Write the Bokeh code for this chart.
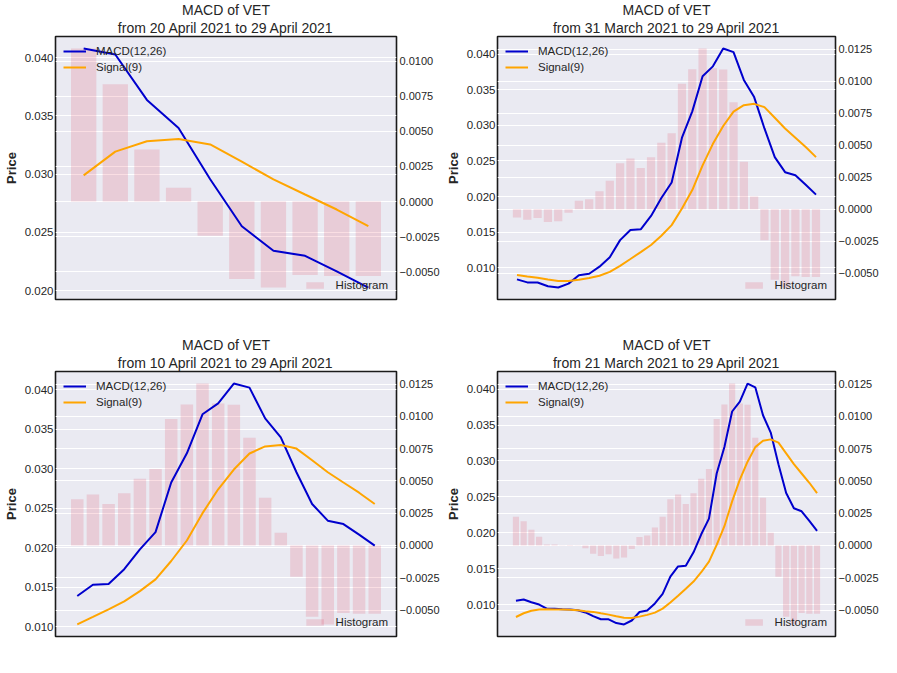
import pandas as pd
from bokeh.plotting import figure
from bokeh.models import (Range1d, LinearAxis, SingleIntervalTicker, Grid, Legend,
                          LegendItem, Title, CustomJSTickFormatter)
from bokeh.layouts import column, row
from bokeh.embed import file_html
from bokeh.resources import INLINE

# ---- data (VET, 21 March 2021 .. 29 April 2021) ----
dates = pd.date_range("2021-03-21", "2021-04-29", freq="D")

macd = [0.01055, 0.01072, 0.01035, 0.01002, 0.00945, 0.00944, 0.00936, 0.00933, 0.00922, 0.00892,
        0.00840, 0.00797, 0.00796, 0.00744, 0.00725, 0.00780, 0.00898, 0.00918, 0.01018, 0.01150,
        0.01390, 0.01533, 0.01542, 0.01729, 0.01980, 0.02198, 0.02826, 0.03196, 0.03689, 0.03827,
        0.04078, 0.04026, 0.03637, 0.03396, 0.02956, 0.02554, 0.02343, 0.02300, 0.02166, 0.02028]

signal = [0.00829, 0.00881, 0.00915, 0.00934, 0.00938, 0.00934, 0.00934, 0.00929, 0.00924, 0.00910,
          0.00900, 0.00880, 0.00862, 0.00838, 0.00818, 0.00816, 0.00834, 0.00858, 0.00890, 0.00945,
          0.01030, 0.01125, 0.01222, 0.01322, 0.01452, 0.01600, 0.01833, 0.02092, 0.02438, 0.02740,
          0.02990, 0.03193, 0.03282, 0.03301, 0.03255, 0.03107, 0.02956, 0.02826, 0.02697, 0.02554]

hist = [0.00223, 0.00188, 0.00122, 0.00068, 0.00008, 0.00008, 0.00002, 0.00004, -0.00002, -0.00022,
        -0.00065, -0.00082, -0.00068, -0.00100, -0.00094, -0.00028, 0.00066, 0.00078, 0.00140, 0.00222,
        0.00358, 0.00395, 0.00322, 0.00405, 0.00518, 0.00592, 0.00980, 0.01092, 0.01255, 0.01100,
        0.01090, 0.00835, 0.00370, 0.00098, -0.00243, -0.00552, -0.00612, -0.00523, -0.00530, -0.00530]

# window start index for each panel (top-left, top-right, bottom-left, bottom-right)
starts = [30, 10, 20, 0]

main_title = "MACD of VET"
line_labels = ["MACD(12,26)", "Signal(9)"]
bar_label = "Histogram"

FONT = "Liberation Sans"
TXT = "#262626"
BG = "#EAEAF2"


def fmt_date(d):
    return f"{d.day} {d.strftime('%B %Y')}"


def make_panel(start, top_row, left_col):
    n = len(macd) - start
    xs = list(range(n))
    m = macd[start:]
    s = signal[start:]
    h = hist[start:]

    lo, hi = min(m + s), max(m + s)
    pad = 0.05 * (hi - lo)
    hlo, hhi = min(min(h), 0.0), max(max(h), 0.0)
    hpad = 0.05 * (hhi - hlo)
    xpad = 0.05 * (n - 1 + 0.8)

    if left_col:
        width, bl, br = 442, 47, 40
    else:
        width, bl, br = 439, 52, 40
    if top_row:
        height, bt, bb = 335, 33, 36
    else:
        height, bt, bb = 322, 34, 21

    p = figure(width=width, height=height, title=None,
               x_range=Range1d(-0.4 - xpad, n - 1 + 0.4 + xpad),
               y_range=Range1d(lo - pad, hi + pad),
               x_axis_location=None,
               output_backend="svg", toolbar_location=None,
               min_border_left=bl, min_border_right=br,
               min_border_top=bt, min_border_bottom=bb)
    p.extra_y_ranges = {"hist": Range1d(hlo - hpad, hhi + hpad)}

    p.background_fill_color = BG
    p.border_fill_color = "white"
    p.outline_line_color = "#1a1a1a"
    p.outline_line_width = 1.6

    # titles
    sub = f"from {fmt_date(dates[start])} to {fmt_date(dates[-1])}"
    p.add_layout(Title(text=sub, align="center", text_font_size="14px",
                       text_font_style="normal", text_color=TXT, text_font=FONT,
                       standoff=2, offset=0), "above")
    p.add_layout(Title(text=main_title, align="center", text_font_size="14px",
                       text_font_style="normal", text_color=TXT, text_font=FONT,
                       standoff=-2, offset=0), "above")

    p.xgrid.visible = False

    # left axis
    lt = SingleIntervalTicker(interval=0.005, num_minor_ticks=0)
    ya = p.yaxis[0]
    ya.ticker = lt
    ya.formatter = CustomJSTickFormatter(code="return tick.toFixed(3);")
    ya.axis_label = "Price"
    ya.axis_label_text_font = FONT
    ya.axis_label_text_font_size = "13px"
    ya.axis_label_text_font_style = "bold"
    ya.axis_label_text_color = TXT
    ya.axis_label_standoff = 3
    ya.major_label_text_font = FONT
    ya.major_label_text_font_size = "11.5px"
    ya.major_label_text_color = TXT
    ya.major_label_standoff = 2
    ya.axis_line_color = None
    ya.major_tick_line_color = None
    ya.minor_tick_line_color = None
    ya.major_tick_out = 0
    ya.major_tick_in = 0
    ya.minor_tick_out = 0
    ya.minor_tick_in = 0
    p.ygrid.ticker = lt
    p.ygrid.grid_line_color = "white"
    p.ygrid.grid_line_width = 1.2

    # right axis
    rt = SingleIntervalTicker(interval=0.0025, num_minor_ticks=0)
    ra = LinearAxis(y_range_name="hist", ticker=rt,
                    formatter=CustomJSTickFormatter(code="""
                        const v = Math.abs(tick) < 1e-12 ? 0 : tick;
                        return (v < 0 ? "\\u2212" : "") + Math.abs(v).toFixed(4);
                    """))
    ra.major_label_text_font = FONT
    ra.major_label_text_font_size = "11px"
    ra.major_label_text_color = TXT
    ra.major_label_standoff = 3
    ra.axis_label_standoff = 0
    ra.axis_line_color = None
    ra.major_tick_line_color = None
    ra.minor_tick_line_color = None
    ra.major_tick_out = 0
    ra.major_tick_in = 0
    ra.minor_tick_out = 0
    ra.minor_tick_in = 0
    p.add_layout(ra, "right")
    p.add_layout(Grid(dimension=1, ticker=rt, y_range_name="hist",
                      grid_line_color="white", grid_line_width=1.2))

    # glyphs
    r_bar = p.vbar(x=xs, top=h, bottom=0, width=0.8, y_range_name="hist",
                   fill_color="crimson", fill_alpha=0.14, line_color=None)
    r_macd = p.line(xs, m, line_color="mediumblue", line_width=2)
    r_sig = p.line(xs, s, line_color="orange", line_width=2)

    leg1 = Legend(items=[LegendItem(label=line_labels[0], renderers=[r_macd]),
                         LegendItem(label=line_labels[1], renderers=[r_sig])],
                  location="top_left", margin=4, padding=4, spacing=2,
                  glyph_width=23, glyph_height=14, label_standoff=10,
                  label_text_font=FONT, label_text_font_size="11.5px",
                  label_text_color=TXT, background_fill_alpha=0,
                  border_line_alpha=0)
    leg2 = Legend(items=[LegendItem(label=bar_label, renderers=[r_bar])],
                  location="bottom_right", margin=3, padding=5, spacing=0,
                  glyph_width=22, glyph_height=8, label_standoff=10,
                  label_text_font=FONT, label_text_font_size="11.5px",
                  label_text_color=TXT, background_fill_alpha=0,
                  border_line_alpha=0)
    p.add_layout(leg1, "center")
    p.add_layout(leg2, "center")
    return p


p1 = make_panel(starts[0], True, True)
p2 = make_panel(starts[1], True, False)
p3 = make_panel(starts[2], False, True)
p4 = make_panel(starts[3], False, False)

layout = column(row(p1, p2), row(p3, p4))
open("out.html", "w").write(file_html(layout, INLINE))
